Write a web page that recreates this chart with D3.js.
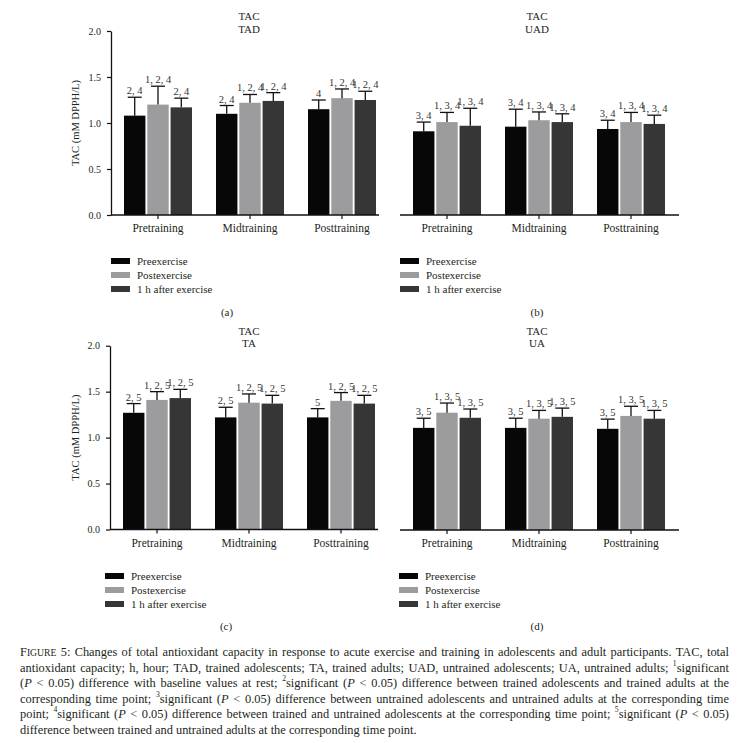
<!DOCTYPE html>
<html>
<head>
<meta charset="utf-8">
<script src="https://cdn.jsdelivr.net/npm/d3@7"></script>
<style>
  body { margin: 0; background: #fff; }
  svg { display: block; font-family: "Liberation Serif", "Times New Roman", serif; }
</style>
</head>
<body>
<div id="chart"></div>
<script>
const categories = ["Pretraining", "Midtraining", "Posttraining"];
const series = ["Preexercise", "Postexercise", "1 h after exercise"];
const seriesColors = ["#070707", "#9c9c9e", "#363636"];
const yTicks = [0, 0.5, 1.0, 1.5, 2.0];

// means and SD, [category][series]
const tadMeans = [[1.08, 1.20, 1.17], [1.10, 1.22, 1.24], [1.15, 1.27, 1.25]];
const tadSD = [[0.20, 0.20, 0.10], [0.09, 0.09, 0.09], [0.10, 0.10, 0.095]];
const tadMarks = [["2, 4", "1, 2, 4", "2, 4"], ["2, 4", "1, 2, 4", "1, 2, 4"], ["4", "1, 2, 4", "1, 2, 4"]];

const uadMeans = [[0.91, 1.01, 0.97], [0.96, 1.03, 1.01], [0.935, 1.01, 0.99]];
const uadSD = [[0.10, 0.105, 0.19], [0.19, 0.09, 0.09], [0.095, 0.105, 0.095]];
const uadMarks = [["3, 4", "1, 3, 4", "1, 3, 4"], ["3, 4", "1, 3, 4", "1, 3, 4"], ["3, 4", "1, 3, 4", "1, 3, 4"]];

const taMeans = [[1.27, 1.41, 1.43], [1.22, 1.38, 1.37], [1.22, 1.40, 1.37]];
const taSD = [[0.10, 0.09, 0.095], [0.11, 0.095, 0.09], [0.095, 0.09, 0.09]];
const taMarks = [["2, 5", "1, 2, 5", "1, 2, 5"], ["2, 5", "1, 2, 5", "1, 2, 5"], ["5", "1, 2, 5", "1, 2, 5"]];

const uaMeans = [[1.11, 1.275, 1.22], [1.11, 1.21, 1.23], [1.10, 1.24, 1.21]];
const uaSD = [[0.105, 0.105, 0.095], [0.105, 0.09, 0.095], [0.105, 0.105, 0.09]];
const uaMarks = [["3, 5", "1, 3, 5", "1, 3, 5"], ["3, 5", "1, 3, 5", "1, 3, 5"], ["3, 5", "1, 3, 5", "1, 3, 5"]];

const captionLines = [
  "{Figure} 5: Changes of total antioxidant capacity in response to acute exercise and training in adolescents and adult participants. TAC, total",
  "antioxidant capacity; h, hour; TAD, trained adolescents; TA, trained adults; UAD, untrained adolescents; UA, untrained adults; ^1significant",
  "(_P_ < 0.05) difference with baseline values at rest; ^2significant (_P_ < 0.05) difference between trained adolescents and trained adults at the",
  "corresponding time point; ^3significant (_P_ < 0.05) difference between untrained adolescents and untrained adults at the corresponding time",
  "point; ^4significant (_P_ < 0.05) difference between trained and untrained adolescents at the corresponding time point; ^5significant (_P_ < 0.05)",
  "difference between trained and untrained adults at the corresponding time point."
];

const panels = [
  { title: "TAD", tag: "(a)", means: tadMeans, sd: tadSD, marks: tadMarks,
    left: 111, bottom: 215, top: 31, axisEnd: 379, yAxis: true, titleX: 249, titleY: 20, titleGap: 13,
    legendX: 111, legendY: 261, tagX: 227, tagY: 316 },
  { title: "UAD", tag: "(b)", means: uadMeans, sd: uadSD, marks: uadMarks,
    left: 400, bottom: 215, top: 31, axisEnd: 679, yAxis: false, titleX: 537, titleY: 20, titleGap: 13,
    legendX: 400, legendY: 261, tagX: 537, tagY: 316 },
  { title: "TA", tag: "(c)", means: taMeans, sd: taSD, marks: taMarks,
    left: 110, bottom: 529.5, top: 345.7, axisEnd: 378, yAxis: true, titleX: 249, titleY: 335, titleGap: 12,
    legendX: 105, legendY: 576, tagX: 226, tagY: 630 },
  { title: "UA", tag: "(d)", means: uaMeans, sd: uaSD, marks: uaMarks,
    left: 400, bottom: 530, top: 346, axisEnd: 679, yAxis: false, titleX: 537, titleY: 335, titleGap: 11.5,
    legendX: 399, legendY: 576, tagX: 537, tagY: 630 }
];

const width = 746;
const height = 743;
const ink = "#231f20";

const svg = d3
  .select("#chart")
  .append("svg")
  .attr("width", width)
  .attr("height", height);

panels.forEach(function (p) {
  const g = svg.append("g");

  const y = d3.scaleLinear().domain([0, 2]).range([p.bottom, p.top]);
  const x = d3.scaleBand().domain(categories).range([p.left + 1, p.left + 1 + 276]);
  const inner = d3.scaleBand().domain(series).range([-34, 34]).paddingInner(0.08);

  // bars
  const groups = g
    .selectAll(".group")
    .data(categories)
    .enter()
    .append("g")
    .attr("transform", (d) => "translate(" + (x(d) + x.bandwidth() / 2) + ",0)");

  groups.each(function (cat, ci) {
    const grp = d3.select(this);
    const rows = series.map((s, si) => ({
      s: s,
      si: si,
      mean: p.means[ci][si],
      sd: p.sd[ci][si],
      mark: p.marks[ci][si]
    }));

    grp
      .selectAll("rect")
      .data(rows)
      .enter()
      .append("rect")
      .attr("x", (d) => inner(d.s))
      .attr("y", (d) => y(d.mean))
      .attr("width", inner.bandwidth())
      .attr("height", (d) => y(0) - y(d.mean))
      .attr("fill", (d) => seriesColors[d.si]);

    const cx = (d) => inner(d.s) + inner.bandwidth() / 2;

    grp
      .selectAll(".err")
      .data(rows)
      .enter()
      .append("line")
      .attr("x1", cx)
      .attr("x2", cx)
      .attr("y1", (d) => y(d.mean))
      .attr("y2", (d) => y(d.mean + d.sd))
      .attr("stroke", "#111")
      .attr("stroke-width", 1.3);

    grp
      .selectAll(".cap")
      .data(rows)
      .enter()
      .append("line")
      .attr("x1", (d) => cx(d) - 7)
      .attr("x2", (d) => cx(d) + 7)
      .attr("y1", (d) => y(d.mean + d.sd))
      .attr("y2", (d) => y(d.mean + d.sd))
      .attr("stroke", "#111")
      .attr("stroke-width", 1.3);

    grp
      .selectAll(".mark")
      .data(rows)
      .enter()
      .append("text")
      .attr("x", cx)
      .attr("y", (d) => y(d.mean + d.sd) - 3)
      .attr("text-anchor", "middle")
      .attr("font-size", "10.5px")
      .attr("fill", "#333")
      .text((d) => d.mark);
  });

  // x axis
  const xAxis = g
    .append("g")
    .attr("transform", "translate(0," + p.bottom + ")")
    .call(d3.axisBottom(x).tickSize(4).tickPadding(5).tickSizeOuter(0));
  xAxis.select(".domain").remove();
  xAxis.selectAll("line").attr("stroke", "#111").attr("stroke-width", 1.2);
  xAxis
    .selectAll("text")
    .attr("font-family", "Liberation Serif, serif")
    .attr("font-size", "11.5px")
    .attr("fill", ink);
  xAxis
    .append("line")
    .attr("x1", p.left)
    .attr("x2", p.axisEnd)
    .attr("stroke", "#111")
    .attr("stroke-width", 1.3);

  // y axis
  if (p.yAxis) {
    const yAxis = g
      .append("g")
      .attr("transform", "translate(" + p.left + ",0)")
      .call(
        d3
          .axisLeft(y)
          .tickValues(yTicks)
          .tickFormat(d3.format(".1f"))
          .tickSize(4)
          .tickPadding(6)
          .tickSizeOuter(0)
      );
    yAxis.select(".domain").attr("stroke", "#111").attr("stroke-width", 1.3);
    yAxis.selectAll("line").attr("stroke", "#111").attr("stroke-width", 1.2);
    yAxis
      .selectAll("text")
      .attr("font-family", "Liberation Serif, serif")
      .attr("font-size", "10px")
      .attr("fill", ink);

    g.append("text")
      .attr("transform", "translate(78.5," + (p.top + p.bottom) / 2 + ") rotate(-90)")
      .attr("text-anchor", "middle")
      .attr("font-size", "10.5px")
      .attr("fill", ink)
      .text("TAC (mM DPPH/L)");
  }

  // title
  g.append("text")
    .attr("x", p.titleX)
    .attr("y", p.titleY)
    .attr("text-anchor", "middle")
    .attr("font-size", "11px")
    .attr("fill", ink)
    .text("TAC");
  g.append("text")
    .attr("x", p.titleX)
    .attr("y", p.titleY + p.titleGap)
    .attr("text-anchor", "middle")
    .attr("font-size", "11px")
    .attr("fill", ink)
    .text(p.title);

  // legend
  const legend = g
    .selectAll(".legend")
    .data(series)
    .enter()
    .append("g")
    .attr("transform", (d, i) => "translate(" + p.legendX + "," + (p.legendY + i * 14) + ")");
  legend
    .append("rect")
    .attr("x", 0)
    .attr("y", -3)
    .attr("width", 19)
    .attr("height", 6)
    .attr("fill", (d, i) => seriesColors[i]);
  legend
    .append("text")
    .attr("x", 26)
    .attr("y", 3.8)
    .attr("font-size", "11px")
    .attr("fill", ink)
    .text((d) => d);

  g.append("text")
    .attr("x", p.tagX)
    .attr("y", p.tagY)
    .attr("text-anchor", "middle")
    .attr("font-size", "11px")
    .attr("fill", ink)
    .text(p.tag);
});

// caption, justified word by word
const capLeft = 20;
const capRight = 729;
const capTop = 656;
const capLead = 15.6;
const capSize = 12.4;

function addWord(parent, word) {
  const parts = word.split(/(\{[^}]+\}|_[^_]+_|\^\d)/).filter((s) => s.length);
  parts.forEach(function (part) {
    if (part[0] === "{") {
      const w = part.slice(1, -1);
      parent.append("tspan").text(w[0].toUpperCase());
      parent
        .append("tspan")
        .attr("font-size", capSize * 0.78 + "px")
        .text(w.slice(1).toUpperCase());
    } else if (part[0] === "_") {
      parent.append("tspan").attr("font-style", "italic").text(part.slice(1, -1));
    } else if (part[0] === "^") {
      parent
        .append("tspan")
        .attr("font-size", capSize * 0.62 + "px")
        .attr("baseline-shift", "70%")
        .text(part.slice(1));
    } else {
      parent.append("tspan").text(part);
    }
  });
}

captionLines.forEach(function (line, li) {
  const words = line.split(" ");
  const yPos = capTop + li * capLead;
  const nodes = words.map(function (w) {
    const t = svg
      .append("text")
      .attr("y", yPos)
      .attr("font-size", capSize + "px")
      .attr("fill", ink);
    addWord(t, w);
    return t;
  });
  const widths = nodes.map((t) => t.node().getComputedTextLength());
  const total = d3.sum(widths);
  let gap = capSize * 0.25;
  if (li < captionLines.length - 1) {
    gap = Math.max(1.5, (capRight - capLeft - total) / (words.length - 1));
  }
  let xPos = capLeft;
  nodes.forEach(function (t, i) {
    t.attr("x", xPos);
    xPos += widths[i] + gap;
  });
});
</script>
</body>
</html>
